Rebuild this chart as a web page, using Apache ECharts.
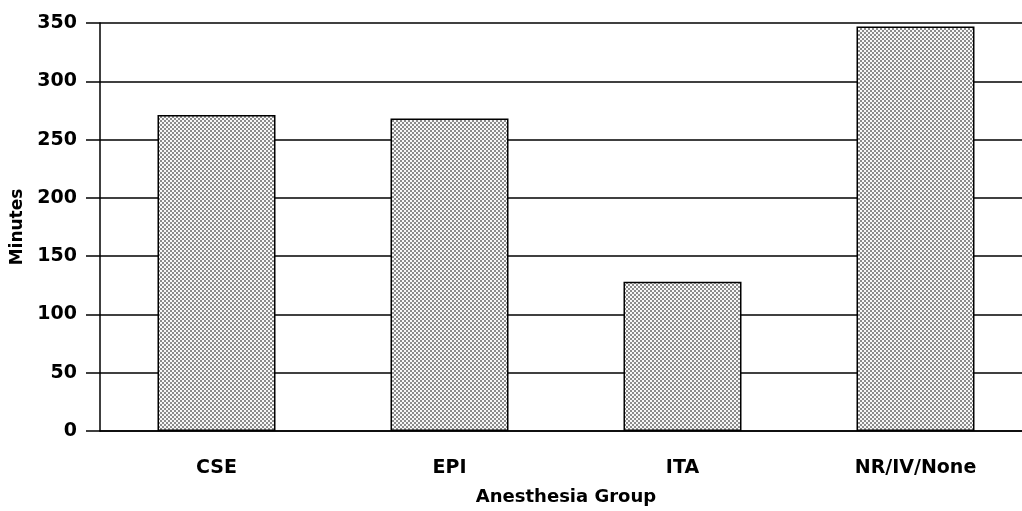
<!DOCTYPE html>
<html>
<head>
<meta charset="utf-8">
<script src="https://cdn.jsdelivr.net/npm/echarts@6/dist/echarts.min.js"></script>
<style>html,body{margin:0;padding:0;background:#fff;overflow:hidden;width:1022px;height:511px}#c{width:1032px;height:511px}</style>
</head>
<body>
<div id="c"></div>
<script>
const categories = ['CSE', 'EPI', 'ITA', 'NR/IV/None'];
const minutes = [271, 268, 128, 347];
const yTicks = [0, 50, 100, 150, 200, 250, 300, 350];

function makePattern() {
  const c = document.createElement('canvas');
  c.width = 4; c.height = 4;
  const g = c.getContext('2d');
  g.fillStyle = '#f8f8f8'; g.fillRect(0, 0, 4, 4);
  g.fillStyle = '#8c8c8c';
  g.fillRect(0, 0, 2, 2);
  g.fillRect(2, 2, 2, 2);
  return c;
}

const chart = echarts.init(document.getElementById('c'), null, {renderer: 'canvas'});
const font = 'DejaVu Sans';
chart.setOption({
  animation: false,
  backgroundColor: '#fff',
  grid: {left: 100, right: 0, top: 23, bottom: 75},
  xAxis: {
    type: 'category',
    data: categories,
    name: 'Anesthesia Group',
    nameLocation: 'middle',
    nameGap: 57,
    nameTextStyle: {fontFamily: font, fontWeight: 'bold', fontSize: 18, color: '#000'},
    axisLine: {lineStyle: {color: '#000', width: 1.5}},
    axisTick: {alignWithLabel: true, length: 11, lineStyle: {color: '#000', width: 1.5}},
    axisLabel: {fontFamily: font, fontWeight: 'bold', fontSize: 19, color: '#000', margin: 28}
  },
  yAxis: {
    type: 'value',
    min: yTicks[0],
    max: yTicks[yTicks.length - 1],
    interval: 50,
    name: 'Minutes',
    nameLocation: 'middle',
    nameGap: 71,
    nameTextStyle: {fontFamily: font, fontWeight: 'bold', fontSize: 17, color: '#000'},
    axisLine: {show: true, lineStyle: {color: '#000', width: 1.5}},
    axisTick: {show: true, inside: false, length: 14, lineStyle: {color: '#000', width: 1.5}},
    axisLabel: {fontFamily: font, fontWeight: 'bold', fontSize: 19, color: '#000', margin: 23},
    splitLine: {show: true, lineStyle: {color: '#000', width: 1.5}}
  },
  series: [{
    type: 'bar',
    data: minutes,
    barWidth: 118,
    itemStyle: {
      color: {image: makePattern(), repeat: 'repeat'},
      borderColor: '#000',
      borderWidth: 1.5
    }
  }]
});
</script>
</body>
</html>
